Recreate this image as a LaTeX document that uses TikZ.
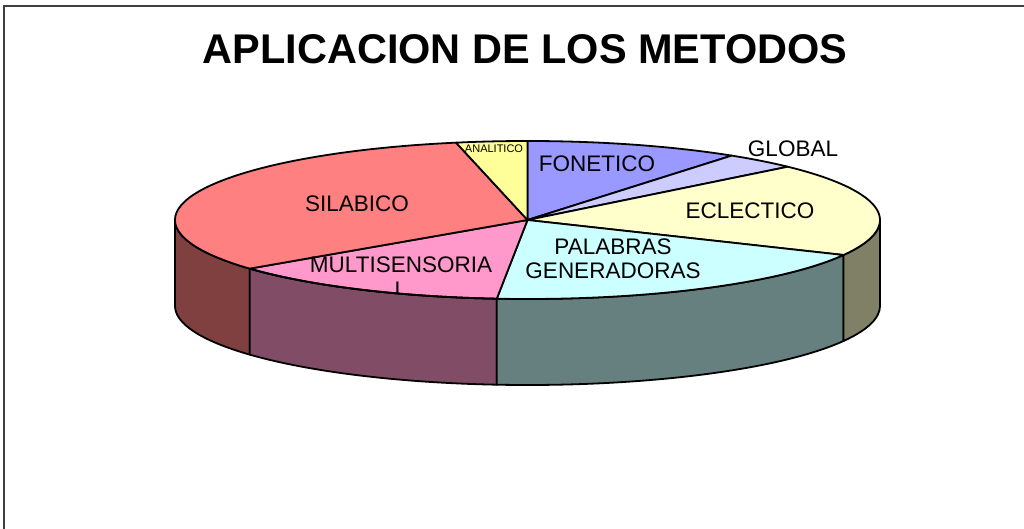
\documentclass[tikz,border=0pt]{standalone}
\usepackage{fontspec}
\setmainfont{Liberation Sans}
\definecolor{cFon}{HTML}{9999FF}
\definecolor{cGlo}{HTML}{CCCCFF}
\definecolor{cEcl}{HTML}{FFFFCC}
\definecolor{cPal}{HTML}{CCFFFF}
\definecolor{cMul}{HTML}{FF99CC}
\definecolor{cSil}{HTML}{FF8080}
\definecolor{cAna}{HTML}{FFFF99}
\definecolor{sEcl}{HTML}{808066}
\definecolor{sPal}{HTML}{668080}
\definecolor{sMul}{HTML}{804C66}
\definecolor{sSil}{HTML}{804040}
\tikzset{
  slice/.style={draw=black, line width=1.8pt, line join=round},
  lbl/.style={font=\fontsize{22.5}{24.5}\selectfont, align=center, inner sep=0pt},
}
\newcommand{\RX}{352.5}
\newcommand{\RY}{79}
\newcommand{\DP}{86}
% top slice from angle #1 to #2, colour #3
\newcommand{\topslice}[3]{%
  \filldraw[slice, fill=#3] (c) -- ({527.5+\RX*cos(#1)},{-220+\RY*sin(#1)})
    arc[start angle=#1, end angle=#2, x radius=\RX, y radius=\RY] -- cycle;}
% side segment from angle #1 to #2, colour #3
\newcommand{\sideseg}[3]{%
  \filldraw[slice, fill=#3] ({527.5+\RX*cos(#1)},{-220+\RY*sin(#1)})
    arc[start angle=#1, end angle=#2, x radius=\RX, y radius=\RY]
    -- ++(0,-\DP)
    arc[start angle=#2, end angle=#1, x radius=\RX, y radius=\RY] -- cycle;}
\begin{document}
\begin{tikzpicture}[x=1pt,y=1pt]
\useasboundingbox (0,0) rectangle (1024,-529);
% frame
\draw[line width=1.2pt, draw=black!75] (4,-529) -- (4,-6) -- (1024,-6);
\coordinate (c) at (527.5,-220);
% sides
\sideseg{180}{218}{sSil}
\sideseg{218}{265}{sMul}
\sideseg{265}{333.7}{sPal}
\sideseg{333.7}{360}{sEcl}
% top
\topslice{54.6}{90}{cFon}
\topslice{42.4}{54.6}{cGlo}
\topslice{-26.3}{42.4}{cEcl}
\topslice{-95}{-26.3}{cPal}
\topslice{218}{265}{cMul}
\topslice{101.7}{218}{cSil}
\topslice{90}{101.7}{cAna}
% title
\node[font=\fontsize{41.5}{44}\selectfont\bfseries, inner sep=0pt] (title) at (525,-49) {APLICACION DE LOS METODOS};
% labels
\node[lbl] (fon) at (597,-164) {FONETICO};
\node[lbl] (glo) at (793,-149) {GLOBAL};
\node[lbl] (ecl) at (750,-211) {ECLECTICO};
\node[lbl] (sil) at (357,-204) {SILABICO};
\node[lbl] (pal) at (613,-259) {PALABRAS\\GENERADORAS};
\begin{scope}
  \clip (c) ellipse [x radius=\RX, y radius=\RY];
  \node[lbl] (mul) at (401,-277) {MULTISENSORIA\\L};
\end{scope}
\draw[slice] ({527.5+\RX*cos(218)},{-220+\RY*sin(218)})
  arc[start angle=218, end angle=265, x radius=\RX, y radius=\RY];
\node[lbl, font=\fontsize{11}{12}\selectfont] (ana) at (494,-149) {ANALITICO};
\end{tikzpicture}
\end{document}
